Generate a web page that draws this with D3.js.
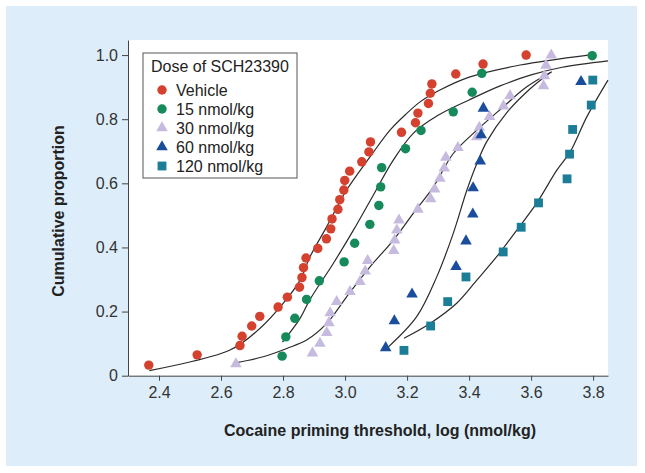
<!DOCTYPE html>
<html><head><meta charset="utf-8">
<script src="https://cdn.jsdelivr.net/npm/d3@7/dist/d3.min.js"></script>
<style>body{margin:0;background:#fff}svg{display:block;font-family:"Liberation Sans",Arial,sans-serif}</style>
</head><body><svg id="c" width="645" height="473"></svg>
<script>
const seriesNames = ["Vehicle","15 nmol/kg","30 nmol/kg","60 nmol/kg","120 nmol/kg"];
const seriesColors = ["#d4412f","#178a5b","#c6badf","#1a4e9c","#1b7e96"];
const seriesShapes = ["circle","circle","triangle","triangle","square"];

const vehicleX = [2.367,2.523,2.661,2.668,2.699,2.725,2.784,2.814,2.853,2.861,2.866,2.874,2.912,2.940,2.954,2.958,2.977,2.983,2.996,2.999,3.015,3.054,3.077,3.082,3.182,3.227,3.235,3.269,3.275,3.280,3.357,3.445,3.584];
const vehicleY = [0.033,0.065,0.094,0.123,0.155,0.185,0.214,0.245,0.276,0.306,0.337,0.367,0.397,0.427,0.458,0.489,0.519,0.549,0.579,0.609,0.638,0.667,0.698,0.729,0.759,0.789,0.819,0.849,0.881,0.910,0.941,0.972,1.000];
const dose15X = [2.797,2.809,2.838,2.876,2.917,2.997,3.031,3.080,3.109,3.115,3.118,3.195,3.245,3.349,3.410,3.441,3.797];
const dose15Y = [0.061,0.121,0.179,0.238,0.296,0.355,0.413,0.472,0.531,0.589,0.649,0.708,0.765,0.823,0.884,0.943,0.998];
const dose30X = [2.648,2.895,2.919,2.941,2.948,2.952,2.973,3.016,3.048,3.065,3.073,3.157,3.160,3.167,3.174,3.235,3.276,3.289,3.306,3.320,3.325,3.364,3.425,3.433,3.466,3.511,3.532,3.640,3.643,3.648,3.665];
const dose30Y = [0.037,0.070,0.101,0.134,0.165,0.196,0.231,0.262,0.293,0.326,0.359,0.390,0.423,0.454,0.485,0.519,0.551,0.582,0.615,0.647,0.681,0.711,0.745,0.774,0.808,0.841,0.873,0.904,0.935,0.968,1.000];
const dose60X = [3.131,3.159,3.216,3.358,3.390,3.412,3.413,3.436,3.439,3.446,3.761];
const dose60Y = [0.087,0.171,0.254,0.340,0.420,0.504,0.586,0.669,0.751,0.834,0.917];
const dose120X = [3.190,3.276,3.331,3.390,3.510,3.568,3.624,3.716,3.724,3.734,3.794,3.799];
const dose120Y = [0.079,0.155,0.231,0.308,0.386,0.463,0.539,0.614,0.691,0.768,0.844,0.922];

// fitted curves
const fitVehicleX = [2.369,2.629,2.726,2.801,2.855,2.887,2.941,3.005,3.081,3.145,3.199,3.242,3.306,3.403,3.565,3.785];
const fitVehicleY = [0.016,0.080,0.148,0.226,0.298,0.371,0.465,0.579,0.683,0.766,0.818,0.854,0.891,0.932,0.969,1.000];
const fit15X = [2.798,2.855,2.887,2.962,3.027,3.091,3.156,3.220,3.300,3.400,3.500,3.600,3.700,3.848];
const fit15Y = [0.105,0.179,0.238,0.350,0.454,0.563,0.673,0.756,0.812,0.860,0.904,0.938,0.962,0.982];
const fit30X = [2.651,2.736,2.812,2.876,2.941,3.005,3.081,3.156,3.220,3.285,3.349,3.425,3.511,3.586,3.667];
const fit30Y = [0.041,0.059,0.085,0.111,0.163,0.246,0.340,0.423,0.506,0.589,0.693,0.766,0.839,0.901,0.948];
const fit60X = [3.140,3.231,3.296,3.349,3.393,3.425,3.457,3.521,3.597,3.661];
const fit60Y = [0.090,0.184,0.309,0.444,0.579,0.662,0.730,0.820,0.895,0.945];
const fit120X = [3.190,3.274,3.360,3.425,3.489,3.554,3.618,3.683,3.726,3.780,3.848];
const fit120Y = [0.117,0.163,0.226,0.298,0.371,0.454,0.538,0.641,0.698,0.808,0.922];

const xTicks = [2.4,2.6,2.8,3.0,3.2,3.4,3.6,3.8];
const yTicks = [0,0.2,0.4,0.6,0.8,1.0];

const series = [
  {x:vehicleX,y:vehicleY,fx:fitVehicleX,fy:fitVehicleY},
  {x:dose15X,y:dose15Y,fx:fit15X,fy:fit15Y},
  {x:dose30X,y:dose30Y,fx:fit30X,fy:fit30Y},
  {x:dose60X,y:dose60Y,fx:fit60X,fy:fit60Y},
  {x:dose120X,y:dose120Y,fx:fit120X,fy:fit120Y}
];

const svg = d3.select("#c");
svg.append("rect").attr("x",6).attr("y",6).attr("width",631).attr("height",460).attr("fill","#ddeefa");

const x = d3.scaleLinear().domain([2.3,3.848]).range([128,608]);
const y = d3.scaleLinear().domain([0,1.047]).range([375.7,40]);

svg.append("rect").attr("x",x(2.3)).attr("y",y(1.047)).attr("width",x(3.848)-x(2.3)).attr("height",y(0)-y(1.047)).attr("fill","#fff");

const shapeOf = {circle:d3.symbolCircle, triangle:d3.symbolTriangle, square:d3.symbolSquare};
const sizeOf = {circle:70, triangle:58, square:78};

const line = d3.line().x(d=>x(d[0])).y(d=>y(d[1])).curve(d3.curveCatmullRom.alpha(0.5));
series.forEach((s,i)=>{
  const pts = s.fx.map((v,j)=>[v,s.fy[j]]);
  svg.append("path").attr("d",line(pts)).attr("fill","none").attr("stroke","#2b2b2b").attr("stroke-width",1.2);
});
series.forEach((s,i)=>{
  const sym = d3.symbol().type(shapeOf[seriesShapes[i]]).size(sizeOf[seriesShapes[i]]);
  svg.append("g").selectAll("path").data(s.x.map((v,j)=>[v,s.y[j]])).join("path")
    .attr("d",sym).attr("transform",d=>`translate(${x(d[0])},${y(d[1])})`).attr("fill",seriesColors[i]);
});

const xAxis = svg.append("g").attr("transform",`translate(0,${y(0)})`)
  .call(d3.axisBottom(x).tickValues(xTicks).tickFormat(d3.format(".1f")).tickSize(5).tickSizeOuter(0).tickPadding(6));
const yAxis = svg.append("g").attr("transform",`translate(${x(2.3)},0)`)
  .call(d3.axisLeft(y).tickValues(yTicks).tickFormat(d=>d===0?"0":d3.format(".1f")(d)).tickSize(6).tickSizeOuter(0).tickPadding(4));
[xAxis,yAxis].forEach(a=>{
  a.selectAll("path,line").attr("stroke","#444").attr("stroke-width",1);
  a.selectAll("text").attr("fill","#333").attr("font-size",16).attr("font-family","Liberation Sans, Arial, sans-serif");
});

svg.append("text").attr("x",380).attr("y",436).attr("text-anchor","middle").attr("font-weight","bold")
  .attr("font-size",16).attr("fill","#222").text("Cocaine priming threshold, log (nmol/kg)");
svg.append("text").attr("transform","translate(64,211) rotate(-90)").attr("text-anchor","middle").attr("font-weight","bold")
  .attr("font-size",16).attr("fill","#222").text("Cumulative proportion");

// legend
const lg = svg.append("g");
lg.append("rect").attr("x",143).attr("y",53).attr("width",154).attr("height",125).attr("fill","#fff").attr("stroke","#555").attr("stroke-width",1);
lg.append("text").attr("x",151).attr("y",71.5).attr("font-size",16).attr("fill","#222").text("Dose of SCH23390");
seriesNames.forEach((n,i)=>{
  const cy = 90 + i*19;
  const sym = d3.symbol().type(shapeOf[seriesShapes[i]]).size(sizeOf[seriesShapes[i]]);
  lg.append("path").attr("d",sym).attr("transform",`translate(162,${cy})`).attr("fill",seriesColors[i]);
  lg.append("text").attr("x",176).attr("y",cy+5.7).attr("font-size",16).attr("fill","#222").text(n);
});
</script></body></html>
